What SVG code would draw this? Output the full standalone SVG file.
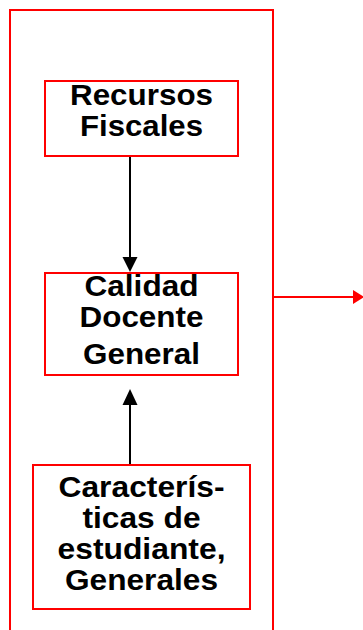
<svg xmlns="http://www.w3.org/2000/svg" width="363" height="630" viewBox="0 0 363 630">
<style>
.box{fill:#fff;stroke:#ff0000;stroke-width:2}
.t{font-family:"Liberation Sans",Arial,sans-serif;font-weight:bold;font-size:29px;fill:#000;text-anchor:middle}
.blk{stroke:#000;stroke-width:2;fill:none}
</style>
<defs>
<marker id="ab" markerWidth="8" markerHeight="8" refX="8" refY="4" orient="auto" markerUnits="userSpaceOnUse" viewBox="0 0 8 8"><path d="M0,0 L8,4 L0,8 Z" fill="#000"/></marker>
</defs>
<rect id="outer" x="10" y="10" width="263" height="640" fill="none" stroke="#ff0000" stroke-width="2"/>
<g id="connectors">
<line class="blk" x1="130" y1="157" x2="130" y2="258"/>
<path d="M122.5,257 L137.5,257 L130,272 Z" fill="#000"/>
<line class="blk" x1="130" y1="464" x2="130" y2="404"/>
<path d="M122.5,405 L137.5,405 L130,389 Z" fill="#000"/>
<line x1="274" y1="297" x2="354" y2="297" stroke="#ff0000" stroke-width="2"/>
<path d="M353,290 L364,297 L353,304 Z" fill="#ff0000"/>
</g>
<g id="recursos">
<rect class="box" x="45" y="81" width="193" height="75"/>
<text class="t" x="141.5" y="105" textLength="143" lengthAdjust="spacingAndGlyphs">Recursos</text>
<text class="t" x="141.5" y="136" textLength="123" lengthAdjust="spacingAndGlyphs">Fiscales</text>
</g>
<g id="calidad">
<rect class="box" x="45" y="273" width="193" height="102"/>
<text class="t" x="141.5" y="296" textLength="114" lengthAdjust="spacingAndGlyphs">Calidad</text>
<text class="t" x="141.5" y="327" textLength="124" lengthAdjust="spacingAndGlyphs">Docente</text>
<text class="t" x="141.5" y="364" textLength="117" lengthAdjust="spacingAndGlyphs">General</text>
</g>
<g id="caracteristicas">
<rect class="box" x="33" y="465" width="217" height="144"/>
<text class="t" x="141.5" y="497" textLength="166" lengthAdjust="spacingAndGlyphs">Caracterís-</text>
<text class="t" x="141.5" y="528" textLength="118" lengthAdjust="spacingAndGlyphs">ticas de</text>
<text class="t" x="141.5" y="559" textLength="168" lengthAdjust="spacingAndGlyphs">estudiante,</text>
<text class="t" x="141.5" y="590" textLength="153" lengthAdjust="spacingAndGlyphs">Generales</text>
</g>
</svg>
